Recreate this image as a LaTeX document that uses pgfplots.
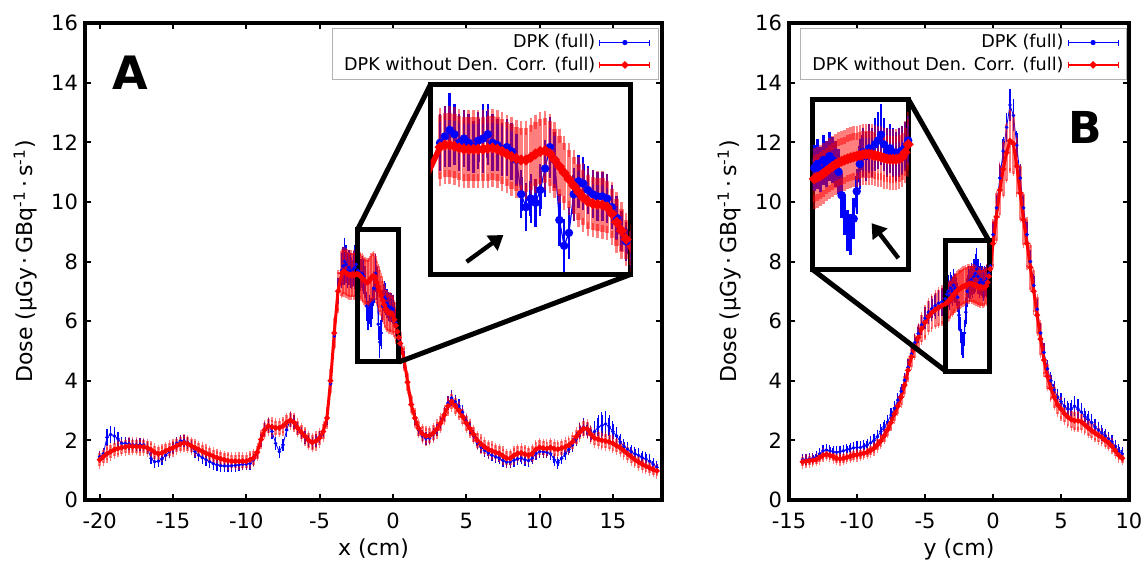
\documentclass[border=0pt]{standalone}
\usepackage{fontspec}
\setmainfont{DejaVu Sans}
\usepackage{pgfplots}
\usepackage{pgfplotstable}
\pgfplotsset{compat=1.18}
\usetikzlibrary{arrows.meta}

% x profile: x, DPK (blue) value/err, DPK w/o density corr. (red) value/err
\pgfplotstableread{
x yb eb yr er
-20.00 1.45 0.12 1.35 0.22
-19.75 1.55 0.12 1.45 0.22
-19.50 2.10 0.20 1.55 0.22
-19.25 2.20 0.20 1.62 0.22
-19.00 2.15 0.20 1.69 0.22
-18.75 2.05 0.15 1.73 0.22
-18.50 1.90 0.12 1.76 0.22
-18.25 1.90 0.12 1.78 0.22
-18.00 1.88 0.12 1.80 0.22
-17.75 1.85 0.12 1.80 0.22
-17.50 1.85 0.12 1.80 0.22
-17.25 1.86 0.12 1.79 0.22
-17.00 1.85 0.12 1.78 0.22
-16.75 1.75 0.12 1.75 0.22
-16.50 1.40 0.12 1.69 0.22
-16.25 1.28 0.12 1.60 0.22
-16.00 1.30 0.12 1.55 0.22
-15.75 1.38 0.12 1.58 0.22
-15.50 1.50 0.12 1.65 0.22
-15.25 1.62 0.12 1.70 0.22
-15.00 1.75 0.12 1.75 0.22
-14.75 1.90 0.12 1.82 0.22
-14.50 1.98 0.12 1.88 0.22
-14.25 1.98 0.12 1.91 0.22
-14.00 1.92 0.12 1.88 0.22
-13.75 1.80 0.12 1.82 0.22
-13.50 1.62 0.12 1.75 0.22
-13.25 1.50 0.12 1.69 0.22
-13.00 1.42 0.12 1.63 0.22
-12.75 1.35 0.12 1.57 0.22
-12.50 1.28 0.12 1.52 0.22
-12.25 1.22 0.12 1.47 0.22
-12.00 1.18 0.12 1.42 0.22
-11.75 1.15 0.12 1.38 0.22
-11.50 1.14 0.12 1.35 0.22
-11.25 1.14 0.12 1.32 0.22
-11.00 1.15 0.12 1.30 0.22
-10.75 1.16 0.12 1.30 0.22
-10.50 1.18 0.12 1.30 0.22
-10.25 1.20 0.12 1.30 0.22
-10.00 1.20 0.12 1.30 0.22
-9.75 1.22 0.12 1.35 0.22
-9.50 1.35 0.12 1.41 0.22
-9.25 1.60 0.12 1.60 0.22
-9.00 2.00 0.12 2.03 0.24
-8.75 2.38 0.15 2.35 0.24
-8.50 2.50 0.15 2.48 0.24
-8.25 2.30 0.15 2.45 0.24
-8.00 1.90 0.12 2.42 0.24
-7.75 1.62 0.12 2.42 0.24
-7.50 1.85 0.12 2.48 0.24
-7.25 2.35 0.15 2.60 0.24
-7.00 2.70 0.15 2.68 0.24
-6.75 2.62 0.15 2.60 0.24
-6.50 2.40 0.12 2.42 0.24
-6.25 2.25 0.12 2.27 0.24
-6.00 2.10 0.12 2.14 0.24
-5.75 1.98 0.12 2.00 0.24
-5.50 1.92 0.12 1.93 0.24
-5.25 2.00 0.12 1.98 0.24
-5.00 2.12 0.12 2.08 0.24
-4.75 2.32 0.12 2.30 0.26
-4.50 2.75 0.15 2.75 0.30
-4.25 3.90 0.20 4.00 0.40
-4.00 5.50 0.25 5.60 0.50
-3.75 7.00 0.35 7.00 0.65
-3.50 7.70 0.50 7.60 0.75
-3.40 7.85 0.55 7.65 0.75
-3.30 8.00 0.70 7.65 0.75
-3.20 7.90 0.55 7.62 0.75
-3.10 7.70 0.50 7.58 0.75
-3.00 7.80 0.50 7.55 0.75
-2.90 7.70 0.50 7.55 0.75
-2.80 7.60 0.45 7.55 0.75
-2.70 7.75 0.50 7.55 0.75
-2.60 7.80 0.65 7.55 0.75
-2.50 7.90 0.55 7.57 0.75
-2.40 7.70 0.50 7.58 0.75
-2.30 7.65 0.45 7.55 0.75
-2.20 7.55 0.45 7.50 0.75
-2.10 7.60 0.50 7.44 0.75
-2.00 7.50 0.50 7.38 0.75
-1.90 7.30 0.45 7.33 0.75
-1.80 6.50 0.40 7.30 0.75
-1.70 6.20 0.40 7.30 0.75
-1.60 6.40 0.40 7.36 0.75
-1.50 6.30 0.40 7.44 0.75
-1.40 6.60 0.45 7.50 0.75
-1.30 7.10 0.50 7.52 0.75
-1.20 7.60 0.55 7.45 0.75
-1.10 7.30 0.50 7.30 0.72
-1.00 5.90 0.45 7.15 0.70
-0.90 5.30 0.45 7.00 0.70
-0.80 5.60 0.45 6.85 0.68
-0.70 6.50 0.45 6.70 0.66
-0.60 6.80 0.45 6.55 0.65
-0.50 6.75 0.45 6.42 0.64
-0.40 6.60 0.40 6.33 0.63
-0.30 6.50 0.40 6.28 0.62
-0.20 6.45 0.40 6.26 0.62
-0.10 6.45 0.40 6.25 0.62
0.00 6.40 0.40 6.20 0.60
0.10 6.20 0.35 6.05 0.58
0.20 5.95 0.35 5.85 0.55
0.30 5.65 0.30 5.65 0.50
0.40 5.40 0.30 5.45 0.45
0.50 5.20 0.25 5.25 0.40
0.75 4.70 0.20 4.75 0.35
1.00 3.95 0.15 3.95 0.30
1.25 3.20 0.12 3.20 0.28
1.50 2.72 0.12 2.75 0.26
1.75 2.35 0.12 2.40 0.25
2.00 2.15 0.12 2.22 0.25
2.25 2.06 0.12 2.15 0.25
2.50 2.08 0.12 2.16 0.25
2.75 2.20 0.12 2.25 0.25
3.00 2.35 0.12 2.38 0.25
3.25 2.58 0.12 2.58 0.25
3.50 2.88 0.15 2.85 0.25
3.75 3.25 0.15 3.15 0.26
4.00 3.42 0.18 3.30 0.26
4.25 3.30 0.15 3.15 0.26
4.50 3.15 0.15 3.00 0.25
4.75 2.95 0.15 2.80 0.25
5.00 2.65 0.12 2.58 0.25
5.25 2.42 0.12 2.40 0.25
5.50 2.15 0.12 2.20 0.24
5.75 1.92 0.12 2.00 0.24
6.00 1.78 0.12 1.88 0.24
6.25 1.66 0.12 1.78 0.24
6.50 1.58 0.12 1.70 0.24
6.75 1.50 0.12 1.65 0.24
7.00 1.45 0.12 1.60 0.24
7.25 1.40 0.12 1.56 0.24
7.50 1.32 0.12 1.48 0.24
7.75 1.27 0.12 1.40 0.24
8.00 1.28 0.12 1.40 0.24
8.25 1.33 0.12 1.50 0.24
8.50 1.38 0.12 1.56 0.24
8.75 1.40 0.12 1.58 0.24
9.00 1.35 0.12 1.54 0.24
9.25 1.32 0.12 1.50 0.24
9.50 1.40 0.12 1.56 0.24
9.75 1.55 0.12 1.70 0.24
10.00 1.62 0.12 1.76 0.24
10.25 1.62 0.12 1.74 0.24
10.50 1.60 0.12 1.72 0.24
10.75 1.55 0.12 1.76 0.24
11.00 1.35 0.12 1.72 0.24
11.25 1.25 0.12 1.70 0.24
11.50 1.40 0.12 1.74 0.24
11.75 1.55 0.12 1.78 0.24
12.00 1.70 0.12 1.84 0.24
12.25 1.85 0.15 1.95 0.24
12.50 2.05 0.15 2.12 0.24
12.75 2.30 0.18 2.28 0.24
13.00 2.45 0.20 2.40 0.24
13.25 2.35 0.18 2.38 0.24
13.50 2.20 0.18 2.20 0.24
13.75 2.30 0.25 2.08 0.24
14.00 2.45 0.30 2.04 0.24
14.25 2.50 0.35 2.00 0.24
14.50 2.55 0.35 1.98 0.24
14.75 2.45 0.30 1.95 0.24
15.00 2.30 0.25 1.90 0.24
15.25 2.15 0.20 1.82 0.22
15.50 1.95 0.18 1.75 0.22
15.75 1.80 0.15 1.65 0.22
16.00 1.70 0.15 1.55 0.22
16.25 1.62 0.15 1.45 0.22
16.50 1.55 0.15 1.35 0.20
16.75 1.50 0.15 1.27 0.20
17.00 1.42 0.15 1.20 0.20
17.25 1.38 0.15 1.14 0.20
17.50 1.30 0.15 1.08 0.18
17.75 1.20 0.12 1.02 0.18
18.00 1.10 0.12 0.98 0.18
}\dataA

% y profile
\pgfplotstableread{
x yb eb yr er
-14.00 1.35 0.10 1.28 0.15
-13.75 1.36 0.10 1.30 0.15
-13.50 1.38 0.10 1.32 0.15
-13.25 1.40 0.10 1.33 0.15
-13.00 1.45 0.10 1.36 0.15
-12.75 1.55 0.10 1.42 0.15
-12.50 1.65 0.12 1.50 0.15
-12.25 1.68 0.12 1.53 0.15
-12.00 1.65 0.12 1.50 0.15
-11.75 1.62 0.12 1.45 0.15
-11.50 1.60 0.12 1.40 0.15
-11.25 1.62 0.12 1.38 0.15
-11.00 1.65 0.12 1.40 0.15
-10.75 1.68 0.12 1.43 0.15
-10.50 1.72 0.12 1.47 0.15
-10.25 1.75 0.12 1.50 0.15
-10.00 1.76 0.12 1.52 0.15
-9.75 1.76 0.12 1.54 0.15
-9.50 1.80 0.12 1.57 0.15
-9.25 1.85 0.12 1.60 0.16
-9.00 1.92 0.14 1.66 0.16
-8.75 2.00 0.14 1.74 0.17
-8.50 2.12 0.14 1.85 0.18
-8.25 2.30 0.15 1.98 0.19
-8.00 2.45 0.15 2.15 0.20
-7.75 2.62 0.15 2.36 0.21
-7.50 2.85 0.15 2.60 0.22
-7.25 3.08 0.15 2.88 0.24
-7.00 3.35 0.15 3.15 0.26
-6.75 3.65 0.15 3.45 0.28
-6.50 4.02 0.15 3.85 0.30
-6.25 4.45 0.18 4.35 0.32
-6.00 4.90 0.18 4.80 0.35
-5.75 5.28 0.20 5.15 0.38
-5.50 5.58 0.22 5.45 0.42
-5.25 5.88 0.25 5.75 0.46
-5.00 6.10 0.28 5.95 0.50
-4.75 6.30 0.30 6.15 0.53
-4.50 6.42 0.32 6.28 0.56
-4.25 6.52 0.35 6.38 0.58
-4.00 6.60 0.35 6.45 0.60
-3.75 6.65 0.38 6.52 0.60
-3.50 6.75 0.40 6.58 0.60
-3.40 6.90 0.40 6.62 0.60
-3.30 7.00 0.45 6.66 0.60
-3.20 6.85 0.40 6.70 0.60
-3.10 7.10 0.45 6.76 0.60
-3.00 7.00 0.40 6.82 0.60
-2.90 7.20 0.45 6.88 0.60
-2.80 7.10 0.40 6.94 0.60
-2.70 7.00 0.40 6.99 0.60
-2.60 6.80 0.40 7.03 0.60
-2.50 6.20 0.40 7.07 0.60
-2.40 5.70 0.35 7.10 0.60
-2.30 5.30 0.35 7.13 0.60
-2.20 5.20 0.35 7.16 0.60
-2.10 5.60 0.35 7.18 0.60
-2.00 6.30 0.40 7.20 0.60
-1.90 7.00 0.45 7.22 0.60
-1.80 7.30 0.45 7.24 0.60
-1.70 7.20 0.45 7.25 0.60
-1.60 7.40 0.45 7.25 0.60
-1.50 7.30 0.45 7.24 0.60
-1.40 7.50 0.50 7.22 0.60
-1.30 7.60 0.55 7.20 0.60
-1.20 7.75 0.60 7.18 0.60
-1.10 7.50 0.50 7.15 0.60
-1.00 7.30 0.45 7.13 0.60
-0.90 7.40 0.45 7.12 0.60
-0.80 7.30 0.45 7.12 0.60
-0.70 7.20 0.45 7.12 0.60
-0.60 7.30 0.45 7.14 0.60
-0.50 7.35 0.45 7.18 0.60
-0.40 7.45 0.45 7.30 0.62
-0.30 7.60 0.45 7.50 0.65
-0.20 7.85 0.45 7.75 0.68
0.00 8.90 0.35 8.60 0.75
0.25 9.80 0.35 9.50 0.80
0.50 10.80 0.40 10.40 0.85
0.75 11.70 0.40 11.10 0.90
1.00 12.50 0.40 11.65 0.95
1.25 13.25 0.45 12.05 1.00
1.50 12.90 0.45 11.95 1.00
1.75 11.90 0.40 11.20 0.95
2.00 10.80 0.40 10.30 0.90
2.25 9.80 0.35 9.40 0.85
2.50 8.90 0.35 8.60 0.80
2.75 8.00 0.30 7.80 0.75
3.00 7.20 0.30 7.00 0.70
3.25 6.40 0.25 6.20 0.62
3.50 5.60 0.25 5.40 0.55
3.75 4.95 0.22 4.70 0.48
4.00 4.40 0.22 4.15 0.42
4.25 4.00 0.20 3.75 0.38
4.50 3.70 0.20 3.45 0.35
4.75 3.45 0.20 3.20 0.33
5.00 3.30 0.20 3.05 0.32
5.25 3.15 0.20 2.90 0.30
5.50 3.05 0.20 2.78 0.30
5.75 3.05 0.22 2.70 0.30
6.00 3.15 0.25 2.66 0.30
6.25 3.05 0.25 2.66 0.30
6.50 2.95 0.22 2.62 0.28
6.75 2.80 0.20 2.52 0.27
7.00 2.70 0.20 2.42 0.26
7.25 2.60 0.20 2.33 0.25
7.50 2.45 0.18 2.25 0.24
7.75 2.35 0.18 2.17 0.23
8.00 2.25 0.18 2.10 0.22
8.25 2.15 0.16 2.00 0.21
8.50 2.05 0.15 1.92 0.20
8.75 1.95 0.15 1.80 0.19
9.00 1.80 0.14 1.65 0.18
9.25 1.65 0.14 1.50 0.17
9.50 1.55 0.14 1.40 0.16
}\dataB

\pgfplotsset{
  dosebox/.style={
    scale only axis, height=238.5pt, ymin=0, ymax=16, ytick={0,2,...,16},
    tick align=inside, major tick length=3pt,
    every tick/.style={black, line width=1pt},
    axis line style={line width=2pt},
    ticklabel style={font=\fontsize{10.5}{12}\selectfont},
    xticklabel style={yshift=-3pt},
    /pgf/number format/assume math mode=true,
    label style={font=\fontsize{11}{13}\selectfont},
    xlabel style={yshift=2pt},
    ylabel={Dose (µGy\,·\,GBq\textsuperscript{-1}\,·\,s\textsuperscript{-1})},
    legend style={at={(0.995,0.99)}, anchor=north east, draw=gray!60, line width=0.6pt,
                  fill=white, font=\fontsize{8.8}{10}\selectfont,
                  inner xsep=4pt, inner ysep=1pt, row sep=-1pt},
    legend cell align=right, legend plot pos=right,
  },
  inset/.style={scale only axis, ticks=none, axis line style={line width=2.5pt},
    axis background/.style={fill=white}},
  bluelegend/.style={legend image code/.code={
    \draw[blue, line width=0.5pt] (0pt,0pt) -- (25pt,0pt);
    \draw[blue, line width=0.5pt] (0pt,-1.5pt) -- (0pt,1.5pt) (25pt,-1.5pt) -- (25pt,1.5pt);
    \fill[blue] (12.5pt,0pt) circle (1.1pt);}},
  redlegend/.style={legend image code/.code={
    \draw[red, line width=0.6pt] (0pt,0pt) -- (25pt,0pt);
    \draw[red, line width=0.5pt] (0pt,-1.5pt) -- (0pt,1.5pt) (25pt,-1.5pt) -- (25pt,1.5pt);
    \fill[red] (12.5pt,0pt) circle (0.9pt);}},
  % error bar keys last: they switch the key path
  bluep/.style={bluelegend, blue, line width=0.4pt, mark=*, mark size=0.7pt,
    error bars/.cd, y dir=both, y explicit,
    error bar style={line width=0.75pt, blue},
    error mark options={blue, line width=0.6pt, mark size=1.3pt}},
  redp/.style={redlegend, red, line width=1.5pt, mark=*, mark size=0.5pt,
    error bars/.cd, y dir=both, y explicit,
    error bar style={line width=1.3pt, red, draw opacity=0.5},
    error mark options={red, line width=0.6pt, mark size=1.2pt, draw opacity=0.5}},
  bluebig/.style={blue, line width=0.6pt, mark=*, mark size=1.8pt,
    error bars/.cd, y dir=both, y explicit,
    error bar style={line width=1.3pt, blue},
    error mark options={blue, line width=1.2pt, mark size=3.5pt}},
  redbig/.style={red, line width=2.8pt, mark=*, mark size=0.8pt,
    error bars/.cd, y dir=both, y explicit,
    error bar style={line width=#1, red, draw opacity=0.5},
    error mark options={red, line width=1.2pt, mark size=3.5pt, draw opacity=0.5}},
}

\begin{document}
\begin{tikzpicture}
\path[use as bounding box] (0pt,0pt) rectangle (574pt,281.5pt);

% ---- panel A
\begin{axis}[dosebox, at={(42.5pt,31.5pt)}, anchor=south west, width=288.5pt,
  xmin=-21, xmax=18.35, xtick={-20,-15,...,15}, xlabel={x (cm)}]
\addplot[bluep] table[x=x, y=yb, y error=eb] {\dataA};
\addlegendentry{DPK (full)}
\addplot[redp] table[x=x, y=yr, y error=er] {\dataA};
\addlegendentry{DPK without Den. Corr. (full)}
\draw[line width=2.5pt] (axis cs:-2.42,4.63) rectangle (axis cs:0.41,9.06);
\coordinate (a1) at (axis cs:-2.42,9.06);
\coordinate (a2) at (axis cs:0.41,4.63);
\end{axis}
\draw[line width=2.5pt] (a1) -- (215.25pt,239.25pt);
\draw[line width=2.5pt] (a2) -- (315.25pt,144.25pt);
\node[font=\fontsize{23}{26}\selectfont\bfseries] at (65pt,245pt) {A};

% ---- panel B
\begin{axis}[dosebox, at={(394.5pt,31.5pt)}, anchor=south west, width=170pt,
  xmin=-15, xmax=10, xtick={-15,-10,...,10}, xlabel={y (cm)}]
\addplot[bluep] table[x=x, y=yb, y error=eb] {\dataB};
\addlegendentry{DPK (full)}
\addplot[redp] table[x=x, y=yr, y error=er] {\dataB};
\addlegendentry{DPK without Den. Corr. (full)}
\draw[line width=2.5pt] (axis cs:-3.46,4.32) rectangle (axis cs:-0.29,8.69);
\coordinate (b1) at (axis cs:-0.29,8.69);
\coordinate (b2) at (axis cs:-3.46,4.32);
\end{axis}
\draw[line width=2.5pt] (b1) -- (454.25pt,231.75pt);
\draw[line width=2.5pt] (b2) -- (406.25pt,146.75pt);
\node[font=\fontsize{22}{26}\selectfont\bfseries] at (542.5pt,218pt) {B};

% ---- inset A
\begin{axis}[inset, at={(215.25pt,144.25pt)}, anchor=south west, width=100pt, height=95pt,
  xmin=-3.7, xmax=0.49, ymin=4.63, ymax=9.06]
\addplot[bluebig] table[x=x, y=yb, y error=eb] {\dataA};
\addplot[redbig=2.2pt] table[x=x, y=yr, y error=er] {\dataA};
\end{axis}
\draw[line width=2.2pt, -{Triangle[length=7pt,width=9pt]}] (233.3pt,150.6pt) -- (251.7pt,164pt);

% ---- inset B
\begin{axis}[inset, at={(406.25pt,146.75pt)}, anchor=south west, width=48pt, height=85pt,
  xmin=-3.46, xmax=-0.29, ymin=4.3, ymax=8.65]
\addplot[bluebig] table[x=x, y=yb, y error=eb] {\dataB};
\addplot[redbig=1.4pt] table[x=x, y=yr, y error=er] {\dataB};
\end{axis}
\draw[line width=2.2pt, -{Triangle[length=7pt,width=9pt]}] (449.2pt,152.4pt) -- (435.8pt,169.9pt);
\end{tikzpicture}
\end{document}
